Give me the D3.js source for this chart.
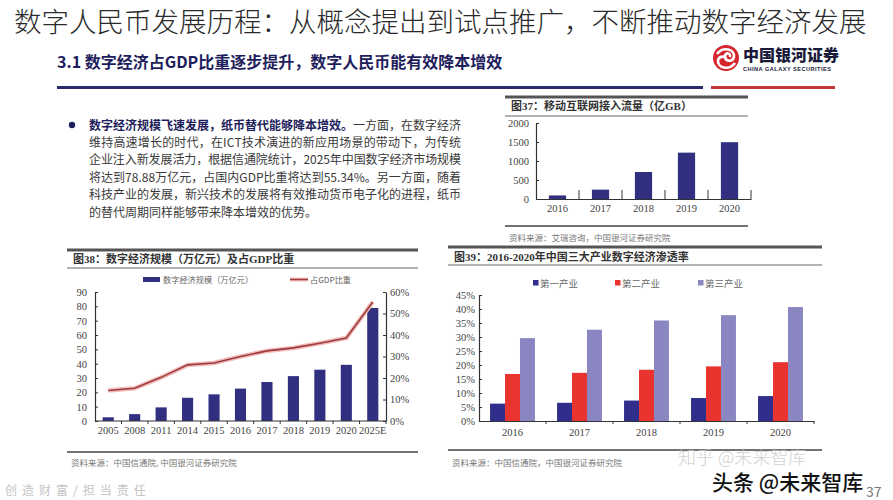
<!DOCTYPE html>
<html><head><meta charset="utf-8">
<script src="https://cdn.jsdelivr.net/npm/d3@7"></script>
<style>
html,body{margin:0;padding:0;background:#fff;}
svg{display:block;}
.ser{font-family:"Liberation Serif","DejaVu Serif",serif;}
</style></head>
<body>
<svg id="c" width="893" height="500"></svg>
<script>
// ---------- data ----------
const cats38 = ["2005","2008","2011","2014","2015","2016","2017","2018","2019","2020","2025E"];
const scale38 = [2.6,4.8,9.5,16.2,18.6,22.6,27.2,31.3,35.8,39.2,78.88];
const share38 = [14.2,15.2,20.3,26.1,27.0,30.0,32.6,34.0,36.2,38.6,55.34];
const ticks38L = [0,10,20,30,40,50,60,70,80,90];
const ticks38R = [0,10,20,30,40,50,60];

const years37 = ["2016","2017","2018","2019","2020"];
const traffic37 = [94,246,711,1220,1495];
const ticks37 = [0,500,1000,1500,2000];

const years39 = ["2016","2017","2018","2019","2020"];
const series39 = ["第一产业","第二产业","第三产业"];
const primary39 = [6.2,6.5,7.3,8.2,8.9];
const secondary39 = [16.8,17.2,18.3,19.5,21.0];
const tertiary39 = [29.6,32.6,35.9,37.8,40.7];
const ticks39 = [0,5,10,15,20,25,30,35,40,45];

const svg = d3.select("#c");
const CJK = "'Noto Sans CJK SC','Noto Sans',sans-serif";
const SERIF = "'Liberation Serif','DejaVu Serif',serif";
const NAVY = "#302f80";

// ---------- header ----------
svg.append("text").attr("x",14).attr("y",32)
  .attr("font-family",CJK).attr("font-size",27.5).attr("font-weight",300)
  .attr("fill","#2a2a2a")
  .text("数字人民币发展历程：从概念提出到试点推广，不断推动数字经济发展");

svg.append("text").attr("x",57).attr("y",68)
  .attr("font-family",CJK).attr("font-size",16).attr("font-weight",700)
  .attr("fill","#1e1e5c")
  .text("3.1  数字经济占GDP比重逐步提升，数字人民币能有效降本增效");

svg.append("rect").attr("x",57).attr("y",86).attr("width",646).attr("height",3).attr("fill","#2b2b6b");
svg.append("rect").attr("x",711).attr("y",86).attr("width",124).attr("height",3).attr("fill","#c0393b");

// logo
const logo = svg.append("g").attr("transform","translate(726,58)");
logo.append("circle").attr("r",13).attr("fill","#d4262c");
logo.append("path").attr("d","M-9,-4 C-3,-12 9,-9 8,-1 C6,5 -2,3 -1,-2 C0,-6 5,-5 4,-1")
  .attr("fill","none").attr("stroke","#fff").attr("stroke-width",2.6);
logo.append("path").attr("d","M9,5 C3,13 -9,10 -8,2 C-6,-3 1,-2 0,2")
  .attr("fill","none").attr("stroke","#fff").attr("stroke-width",2.6);
svg.append("text").attr("x",743).attr("y",61).attr("font-family",CJK).attr("font-size",16)
  .attr("font-weight",900).attr("fill","#1a1a3a").text("中国银河证券");
svg.append("text").attr("x",743).attr("y",71).attr("font-family","'Liberation Sans',sans-serif")
  .attr("font-size",5.6).attr("font-weight",700).attr("fill","#1a1a3a").attr("textLength",88)
  .text("CHINA GALAXY SECURITIES");

// ---------- body text ----------
svg.append("circle").attr("cx",72).attr("cy",125).attr("r",3.2).attr("fill","#1e1e5c");
const bodyLines = [
  "维持高速增长的时代，在ICT技术演进的新应用场景的带动下，为传统",
  "企业注入新发展活力，根据信通院统计，2025年中国数字经济市场规模",
  "将达到78.88万亿元，占国内GDP比重将达到55.34%。另一方面，随着",
  "科技产业的发展，新兴技术的发展将有效推动货币电子化的进程，纸币",
  "的替代周期同样能够带来降本增效的优势。"
];
const t1 = svg.append("text").attr("x",89).attr("y",129.5).attr("font-family",CJK).attr("font-size",12);
t1.append("tspan").attr("font-weight",700).attr("fill","#1e1e5c").text("数字经济规模飞速发展，纸币替代能够降本增效。");
t1.append("tspan").attr("fill","#3a3a3a").text("一方面，在数字经济");
bodyLines.forEach((s,i)=>{
  const t = svg.append("text").attr("x",89).attr("y",147+i*17.4).attr("font-family",CJK)
    .attr("font-size",12).attr("fill","#3a3a3a").text(s);
  if(i<4) t.attr("textLength",372).attr("lengthAdjust","spacing");
});

// ---------- helper for frames ----------
function frame(x1,x2,yTop,yTitle,yUnder,yBottom,yCap,title,cap){
  svg.append("rect").attr("x",x1).attr("y",yTop-1.5).attr("width",x2-x1).attr("height",3).attr("fill","#555");
  svg.append("line").attr("x1",x1).attr("x2",x2).attr("y1",yUnder).attr("y2",yUnder).attr("stroke","#666").attr("stroke-width",1);
  svg.append("line").attr("x1",x1).attr("x2",x2).attr("y1",yBottom).attr("y2",yBottom).attr("stroke","#444").attr("stroke-width",1.5);
  svg.append("text").attr("x",x1+6).attr("y",yTitle)
    .style("font-family","'Liberation Serif','Noto Sans CJK SC',serif").attr("font-size",11)
    .attr("font-weight",700).attr("fill","#333").text(title);
  svg.append("text").attr("x",x1+4).attr("y",yCap).attr("font-family",CJK).attr("font-size",8.5)
    .attr("fill","#777").text(cap);
}
function styleAxis(g){
  g.attr("font-family",null).attr("font-size",null);
  g.select(".domain").attr("stroke","#333").attr("stroke-width",1.2);
  g.selectAll(".tick line").attr("stroke","#333");
  g.selectAll(".tick text").attr("class","ser").style("font-family",SERIF)
    .style("font-size","10.5px").attr("fill","#444");
}
function bandTicks(x,y0,dir){
  const d = x.domain();
  const step = x.step();
  const r0 = x.range()[0];
  for(let i=1;i<=d.length;i++){
    const xx = r0 + i*step;
    svg.append("line").attr("x1",xx).attr("x2",xx).attr("y1",y0).attr("y2",y0+dir*3)
      .attr("stroke","#333").attr("stroke-width",1);
  }
}

// ---------- chart 37 ----------
frame(505,748,97,110,116,226,241,"图37：移动互联网接入流量（亿GB）","资料来源：艾瑞咨询，中国银河证券研究院");
{
  const x = d3.scaleBand().domain(years37).range([536,751]).paddingInner(0.6).paddingOuter(0.3);
  const y = d3.scaleLinear().domain([0,2000]).range([199,123]);
  svg.append("g").selectAll("rect").data(years37).join("rect")
    .attr("x",d=>x(d)).attr("width",x.bandwidth())
    .attr("y",(d,i)=>y(traffic37[i])).attr("height",(d,i)=>y(0)-y(traffic37[i]))
    .attr("fill",NAVY);
  const gy = svg.append("g").attr("transform","translate(536,0)")
    .call(d3.axisLeft(y).tickValues(ticks37).tickFormat(d3.format("d")).tickSizeInner(-3).tickSizeOuter(0).tickPadding(7));
  styleAxis(gy);
  const gx = svg.append("g").attr("transform","translate(0,199)")
    .call(d3.axisBottom(x).tickSize(0).tickPadding(6));
  styleAxis(gx);
  bandTicks(x,199,-3);
}

// ---------- chart 38 ----------
frame(67,418,250,263,268,452,466,"图38：数字经济规模（万亿元）及占GDP比重","资料来源：中国信通院, 中国银河证券研究院");
{
  const x = d3.scaleBand().domain(cats38).range([95,386]).paddingInner(0.58).paddingOuter(0.29);
  const yL = d3.scaleLinear().domain([0,90]).range([421,292]);
  const yR = d3.scaleLinear().domain([0,60]).range([421,292]);
  svg.append("g").selectAll("rect").data(cats38).join("rect")
    .attr("x",d=>x(d)).attr("width",x.bandwidth())
    .attr("y",(d,i)=>yL(scale38[i])).attr("height",(d,i)=>yL(0)-yL(scale38[i]))
    .attr("fill",NAVY);
  const line = d3.line().x((d,i)=>x(cats38[i])+x.bandwidth()/2).y(d=>yR(d));
  svg.append("path").attr("d",line(share38)).attr("fill","none").attr("stroke","#f2bcbc").attr("stroke-width",4.5);
  svg.append("path").attr("d",line(share38)).attr("fill","none").attr("stroke","#9c3a3c").attr("stroke-width",1.6);
  const gl = svg.append("g").attr("transform","translate(95,0)")
    .call(d3.axisLeft(yL).tickValues(ticks38L).tickSizeInner(-3).tickSizeOuter(0).tickPadding(8));
  styleAxis(gl);
  const gr = svg.append("g").attr("transform","translate(386,0)")
    .call(d3.axisRight(yR).tickValues(ticks38R).tickFormat(d=>d+"%").tickSizeInner(-3).tickSizeOuter(0).tickPadding(4));
  styleAxis(gr);
  const gx = svg.append("g").attr("transform","translate(0,421)")
    .call(d3.axisBottom(x).tickSize(0).tickPadding(6));
  styleAxis(gx);
  gx.select(".domain").attr("d","M95,0H386");
  bandTicks(x,421,1);
  // legend
  svg.append("rect").attr("x",143).attr("y",277).attr("width",17).attr("height",5).attr("fill",NAVY);
  svg.append("text").attr("x",163).attr("y",282.5).attr("font-family",CJK).attr("font-size",8.2).attr("fill","#666").text("数字经济规模（万亿元）");
  svg.append("line").attr("x1",290).attr("x2",308).attr("y1",279.5).attr("y2",279.5).attr("stroke","#f2bcbc").attr("stroke-width",4);
  svg.append("line").attr("x1",290).attr("x2",308).attr("y1",279.5).attr("y2",279.5).attr("stroke","#9c3a3c").attr("stroke-width",1.5);
  svg.append("text").attr("x",310).attr("y",282.5).attr("font-family",CJK).attr("font-size",8.2).attr("fill","#666").text("占GDP比重");
}

// ---------- chart 39 ----------
frame(448,822,247,261,265,450,466,"图39：2016-2020年中国三大产业数字经济渗透率","资料来源：中国信通院，中国银河证券研究院");
{
  const colors = ["#2f2e8a","#e8332f","#8a86c2"];
  const vals = [primary39,secondary39,tertiary39];
  const x0 = d3.scaleBand().domain(years39).range([479,814]).paddingInner(0.33).paddingOuter(0.165);
  const x1 = d3.scaleBand().domain(series39).range([0,x0.bandwidth()]);
  const y = d3.scaleLinear().domain([0,45]).range([421,295]);
  const data = [];
  years39.forEach((yr,i)=>series39.forEach((s,j)=>data.push({yr,s,j,v:vals[j][i]})));
  svg.append("g").selectAll("rect").data(data).join("rect")
    .attr("x",d=>x0(d.yr)+x1(d.s)).attr("width",x1.bandwidth())
    .attr("y",d=>y(d.v)).attr("height",d=>y(0)-y(d.v)).attr("fill",d=>colors[d.j]);
  const gy = svg.append("g").attr("transform","translate(479,0)")
    .call(d3.axisLeft(y).tickValues(ticks39).tickFormat(d=>d+"%").tickSizeInner(-3).tickSizeOuter(0).tickPadding(4));
  styleAxis(gy);
  const gx = svg.append("g").attr("transform","translate(0,421)")
    .call(d3.axisBottom(x0).tickSize(0).tickPadding(8));
  styleAxis(gx);
  bandTicks(x0,421,1);
  const lx = [533,615,698];
  series39.forEach((s,j)=>{
    svg.append("rect").attr("x",lx[j]).attr("y",280).attr("width",5.5).attr("height",5.5).attr("fill",colors[j]);
    svg.append("text").attr("x",lx[j]+7).attr("y",286.5).attr("font-family",CJK).attr("font-size",9.5).attr("fill","#666").text(s);
  });
}

// ---------- footer & watermarks ----------
svg.append("text").attr("x",5).attr("y",495).attr("font-family",CJK).attr("font-size",12)
  .attr("letter-spacing",5).attr("fill","#c4c4c4").text("创造财富/担当责任");
svg.append("text").attr("x",866).attr("y",497).attr("font-family",CJK).attr("font-size",14)
  .attr("fill","#777").text("37");
svg.append("text").attr("x",678).attr("y",464).attr("font-family",CJK).attr("font-size",18)
  .attr("font-weight",300).attr("fill","#c8c8c8").attr("fill-opacity",0.85).text("知乎 @未来智库");
svg.append("text").attr("x",712).attr("y",490).attr("font-family",CJK).attr("font-size",21)
  .attr("font-weight",500).attr("fill","#111").text("头条 @未来智库");
</script>
</body></html>
